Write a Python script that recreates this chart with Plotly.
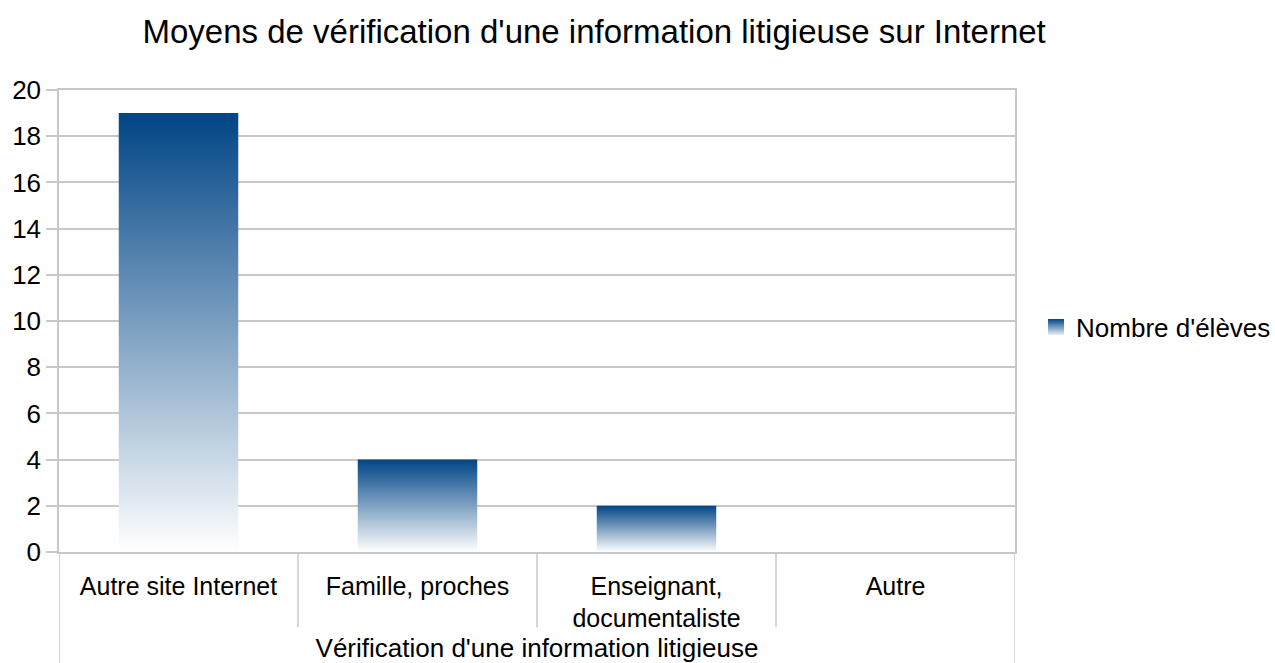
import plotly.graph_objects as go

title = "Moyens de vérification d'une information litigieuse sur Internet"
categories = ["Autre site Internet", "Famille, proches", "Enseignant,<br>documentaliste", "Autre"]
values = [19, 4, 2, 0]
series_name = "Nombre d'élèves"
x_title = "Vérification d'une information litigieuse"
y_ticks = list(range(0, 21, 2))

DARK = "#004586"
GRID = "#c8c8c8"
FONT = "Liberation Sans, Arial, sans-serif"
BAR_HALF = 0.25

fig = go.Figure()
for i, v in enumerate(values):
    if v <= 0:
        continue
    fig.add_trace(go.Scatter(
        x=[i - BAR_HALF, i + BAR_HALF, i + BAR_HALF, i - BAR_HALF, i - BAR_HALF],
        y=[0, 0, v, v, 0],
        mode="none",
        fill="toself",
        fillgradient=dict(type="vertical", colorscale=[[0, "#ffffff"], [1, DARK]]),
        name=series_name,
        legendgroup="s",
        showlegend=False,
        hoverinfo="skip",
    ))

# legend entry (small square with vertical gradient)
fig.add_trace(go.Scatter(
    x=[None], y=[None], mode="markers", name=series_name, legendgroup="s",
    marker=dict(symbol="square", size=16, color=DARK,
                gradient=dict(type="vertical", color="#e6edf4"),
                line=dict(width=0)),
    showlegend=True, hoverinfo="skip",
))

n = len(categories)
# category dividers below the axis
for k in range(n + 1):
    edge = k in (0, n)
    fig.add_shape(type="line", xref="x", yref="paper",
                  x0=k - 0.5, x1=k - 0.5, y0=0, y1=-0.24 if edge else -0.163,
                  line=dict(color=GRID, width=1.5), layer="below")

fig.update_layout(
    width=1275, height=663,
    paper_bgcolor="white", plot_bgcolor="white",
    font=dict(family=FONT, size=26, color="black"),
    title=dict(text=title, x=0.466, xanchor="center", y=0.952, yanchor="middle",
               font=dict(size=33, color="black")),
    margin=dict(l=59, r=260, t=90, b=111, autoexpand=False),
    showlegend=True,
    legend=dict(x=1.022, xanchor="left", y=0.487, yanchor="middle",
                font=dict(size=26), bgcolor="rgba(0,0,0,0)", itemwidth=30),
    xaxis=dict(range=[-0.5, n - 0.5], tickmode="array", tickvals=list(range(n)),
               ticktext=categories, showgrid=False, zeroline=False,
               showline=True, linecolor=GRID, linewidth=1.5, mirror=True,
               ticks="", ticklabelstandoff=11, automargin=False,
               tickfont=dict(size=25),
               title=dict(text=x_title, standoff=10, font=dict(size=26))),
    yaxis=dict(range=[0, 20], tickmode="array", tickvals=y_ticks,
               showgrid=True, gridcolor=GRID, gridwidth=1.5, zeroline=False,
               showline=True, linecolor=GRID, linewidth=1.5, mirror=True,
               ticks="outside", ticklen=11, tickcolor=GRID, tickwidth=1.5,
               automargin=False),
)

fig.write_html("out.html", config={"displayModeBar": False},
               post_script="document.body.style.margin='0';")
